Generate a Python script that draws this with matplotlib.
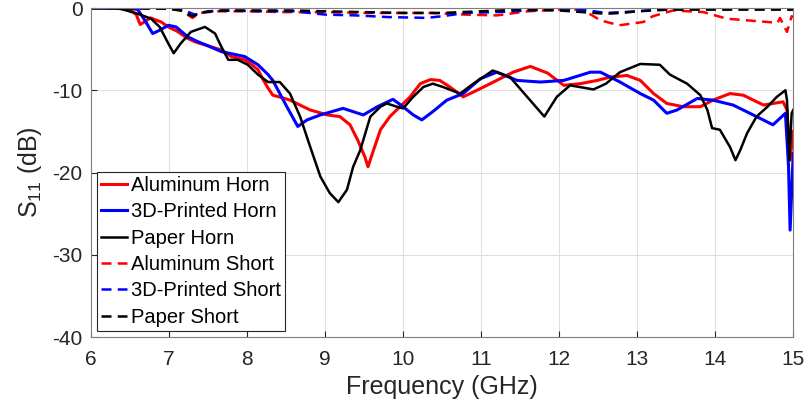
# S11 of horn antennas vs short
import matplotlib
matplotlib.use("Agg")
import matplotlib.pyplot as plt

plt.rcParams['font.family'] = ['Liberation Sans', 'DejaVu Sans']
plt.rcParams['mathtext.fontset'] = 'custom'
plt.rcParams['mathtext.rm'] = 'Liberation Sans'
plt.rcParams['axes.unicode_minus'] = False

# Aluminum horn
alu_f = [6.0, 6.3, 6.5, 6.58, 6.63, 6.7, 6.76, 6.9, 6.99, 7.1, 7.24, 7.33, 7.5, 7.67, 7.8,
         7.97, 8.05, 8.14, 8.2, 8.26, 8.33, 8.45, 8.55, 8.7, 8.81, 9.03, 9.19, 9.32, 9.42,
         9.51, 9.55, 9.62, 9.71, 9.83, 9.96, 10.09, 10.22, 10.35, 10.47, 10.6, 10.77, 10.99,
         11.2, 11.41, 11.63, 11.85, 12.06, 12.27, 12.49, 12.65, 12.87, 13.04, 13.21, 13.38,
         13.59, 13.81, 13.97, 14.19, 14.36, 14.62, 14.87, 14.92, 14.96, 15.0]
alu_s = [0, 0, -0.2, -0.8, -2.0, -1.6, -1.2, -1.7, -2.3, -2.8, -3.7, -4.1, -4.6, -5.1, -5.9,
         -6.3, -6.8, -7.5, -8.6, -9.6, -10.6, -10.9, -11.2, -11.9, -12.4, -13.0, -13.2, -14.2,
         -16.1, -18.1, -19.3, -17.3, -14.8, -13.2, -12.0, -10.8, -9.2, -8.7, -8.8, -9.6, -10.8,
         -9.8, -8.8, -7.8, -7.1, -7.9, -9.4, -9.2, -8.8, -8.4, -8.2, -8.8, -10.4, -11.6,
         -12.0, -12.0, -11.2, -10.4, -10.6, -11.8, -11.4, -12.4, -18.5, -15.0]

# 3D-printed horn
pla_f = [6.0, 6.5, 6.6, 6.69, 6.79, 6.88, 6.99, 7.09, 7.24, 7.37, 7.5, 7.67, 7.97, 8.14, 8.27,
         8.33, 8.42, 8.51, 8.65, 8.77, 8.94, 9.23, 9.49, 9.67, 9.87, 10.0, 10.13, 10.24, 10.38,
         10.56, 10.77, 10.99, 11.2, 11.46, 11.76, 12.06, 12.4, 12.53, 12.78, 13.04, 13.21,
         13.38, 13.51, 13.77, 13.97, 14.23, 14.53, 14.74, 14.9, 14.94, 14.96, 15.0]
pla_s = [0, 0, -0.2, -1.5, -3.1, -2.7, -2.1, -2.3, -3.5, -4.1, -4.6, -5.3, -5.9, -6.9, -8.1,
         -8.8, -10.4, -12.0, -14.4, -13.6, -13.0, -12.2, -13.0, -12.0, -11.1, -12.0, -13.0,
         -13.6, -12.6, -11.2, -10.4, -8.6, -7.8, -8.8, -9.0, -8.8, -7.8, -7.8, -9.0, -10.4,
         -11.2, -12.8, -12.4, -11.0, -11.2, -11.8, -13.2, -14.2, -12.8, -19.3, -27.0, -17.7]

# Paper horn
pap_f = [6.0, 6.38, 6.6, 6.77, 6.88, 6.99, 7.06, 7.15, 7.28, 7.46, 7.59, 7.67, 7.76, 7.88,
         8.01, 8.14, 8.27, 8.42, 8.55, 8.68, 8.81, 8.94, 9.06, 9.17, 9.28, 9.36, 9.45, 9.58,
         9.71, 9.79, 9.92, 10.0, 10.13, 10.26, 10.38, 10.51, 10.73, 10.9, 11.15, 11.37, 11.59,
         11.81, 11.97, 12.14, 12.44, 12.6, 12.78, 13.04, 13.29, 13.42, 13.64, 13.81, 13.9,
         13.96, 14.06, 14.19, 14.26, 14.32, 14.41, 14.53, 14.67, 14.79, 14.9, 14.92, 14.95,
         14.98, 15.0]
pap_s = [0, -0.1, -0.7, -1.3, -2.3, -4.3, -5.5, -4.3, -2.9, -2.3, -3.1, -4.7, -6.3, -6.3,
         -6.9, -8.1, -9.0, -9.0, -10.4, -13.2, -16.9, -20.5, -22.5, -23.6, -22.1, -19.3, -17.3,
         -13.2, -12.0, -11.6, -12.0, -12.2, -10.8, -9.6, -9.2, -9.6, -10.4, -9.2, -7.6, -8.4,
         -10.8, -13.2, -10.8, -9.4, -9.9, -9.2, -7.8, -6.8, -6.9, -8.1, -9.2, -10.6, -12.4,
         -14.6, -14.8, -16.9, -18.5, -17.3, -15.2, -13.2, -12.0, -10.8, -10.0, -11.2, -18.5,
         -12.8, -12.4]

# shorts
alu_short_f = [6.0, 6.5, 7.0, 7.15, 7.3, 7.4, 7.6, 8.0, 8.5, 9.0, 9.5, 10.0, 10.35, 10.8, 11.2,
               11.6, 12.0, 12.3, 12.53, 12.77, 13.08, 13.2, 13.46, 13.85, 14.15, 14.54, 14.8,
               14.83, 14.92, 14.98, 15.0]
alu_short_s = [0, 0, -0.1, -0.3, -1.2, -0.6, -0.4, -0.4, -0.5, -0.5, -0.6, -0.6, -0.6, -0.8,
               -0.9, -0.4, -0.2, -0.2, -1.5, -2.1, -1.7, -1.0, -0.3, -0.5, -1.3, -1.6, -1.8,
               -1.2, -2.9, -1.0, -1.1]
pla_short_f = [6.0, 7.0, 7.2, 7.33, 7.5, 7.7, 8.2, 8.6, 9.0, 9.4, 9.8, 10.3, 10.5, 10.8, 11.2,
               11.6, 12.0, 12.3, 12.6, 12.8, 13.0, 13.4, 14.0, 14.9, 15.0]
pla_short_s = [0, 0, -0.3, -0.8, -0.4, -0.3, -0.4, -0.4, -0.8, -0.9, -1.1, -1.2, -1.0, -0.6,
               -0.5, -0.3, -0.1, -0.2, -0.6, -0.5, -0.4, -0.1, 0, -0.1, -0.2]
pap_short_f = [6.0, 7.0, 7.15, 7.3, 7.45, 7.7, 8.2, 8.6, 9.0, 9.5, 10.0, 10.5, 11.0, 11.5,
               12.0, 12.3, 12.6, 12.8, 13.0, 13.4, 14.0, 15.0]
pap_short_s = [0, -0.1, -0.3, -1.0, -0.5, -0.3, -0.3, -0.3, -0.4, -0.5, -0.6, -0.6, -0.4,
               -0.2, -0.3, -0.5, -0.7, -0.6, -0.4, -0.2, -0.2, -0.2]

fig = plt.figure(figsize=(8.09, 4.11), dpi=100)
ax = fig.add_axes([0.1125, 0.18, 0.868, 0.8005])

ax.plot(alu_f, alu_s, color='#ff0000', lw=2.2, label='Aluminum Horn')
ax.plot(pla_f, pla_s, color='#0000ff', lw=2.2, label='3D-Printed Horn')
ax.plot(pap_f, pap_s, color='black', lw=1.8, label='Paper Horn')
ax.plot(alu_short_f, alu_short_s, color='#ff0000', lw=1.8, ls=(0, (4, 2.5)), label='Aluminum Short')
ax.plot(pla_short_f, pla_short_s, color='#0000ff', lw=1.8, ls=(0, (4, 2.5)), label='3D-Printed Short')
ax.plot(pap_short_f, pap_short_s, color='black', lw=1.8, ls=(0, (4, 2.5)), label='Paper Short')

ax.set_xlim(6, 15)
ax.set_ylim(-40, 0)
ax.set_xticks(range(6, 16))
ax.set_yticks(range(-40, 1, 10))
ax.grid(True, color='#dfdfdf', lw=0.7)
ax.set_axisbelow(True)
ax.tick_params(direction='in', length=4, labelsize=15, colors='#262626',
               top=False, right=False)
ax.tick_params(axis='x', pad=9)
ax.tick_params(axis='y', pad=6)
for sp in ax.spines.values():
    sp.set_color('#7f7f7f')
    sp.set_linewidth(0.8)

ax.set_xlabel('Frequency (GHz)', fontsize=18, color='#262626', labelpad=5)
ax.set_ylabel(r'S$_{\mathrm{11}}$ (dB)', fontsize=18, color='#262626', labelpad=6)

leg = ax.legend(loc='lower left', fontsize=14.5, frameon=True, fancybox=False,
                edgecolor='#262626', framealpha=1, handlelength=1.3, handletextpad=0.2,
                borderpad=0.2, labelspacing=0.37, borderaxespad=0.3)
leg.get_frame().set_linewidth(0.8)

fig.savefig('out.png', dpi=100)
